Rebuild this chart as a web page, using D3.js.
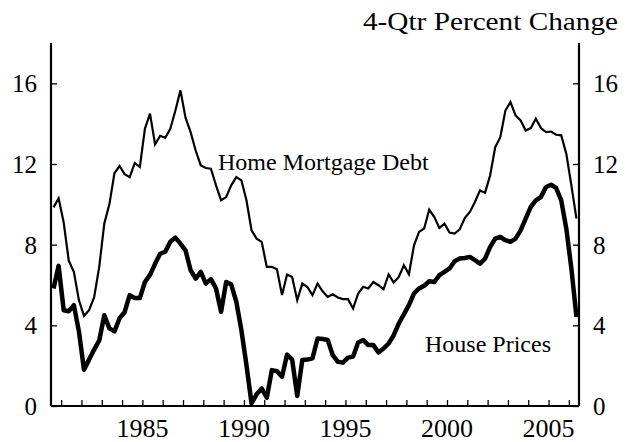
<!DOCTYPE html>
<html>
<head>
<meta charset="utf-8">
<script src="https://cdn.jsdelivr.net/npm/d3@7"></script>
<style>
  body { margin: 0; background: #fff; }
  text { font-family: "Liberation Serif", "Times New Roman", serif; fill: #000; }
</style>
</head>
<body>
<script>
const width = 626;
const height = 442;

// quarterly, starting 1980Q3
const startYear = 1980;
const startQuarter = 3;

const mortgageDebt = [
  9.85, 10.3,
  9.1, 7.2, 6.65, 5.25,
  4.47, 4.75, 5.4, 6.9,
  9.05, 10.0, 11.55, 11.9,
  11.5, 11.35, 12.05, 11.85,
  13.75, 14.5, 12.97, 13.4,
  13.3, 13.75, 14.65, 15.65,
  14.3, 13.58, 12.67, 11.93,
  11.8, 11.77, 10.94, 10.2,
  10.36, 10.94, 11.35, 11.19,
  10.2, 8.71, 8.3, 8.14,
  6.9, 6.9, 6.78, 5.5,
  6.52, 6.4, 5.25, 6.07,
  5.9, 5.5, 6.07, 5.69,
  5.41, 5.54, 5.38, 5.3,
  5.3, 4.83, 5.58, 5.91,
  5.83, 6.15, 5.99, 5.79,
  6.52, 6.12, 6.4, 6.98,
  6.53, 7.97, 8.63, 8.8,
  9.74, 9.37, 8.83, 9.04,
  8.6, 8.55, 8.76, 9.32,
  9.62, 10.12, 10.69, 10.58,
  11.44, 12.84, 13.33, 14.65,
  15.07, 14.41, 14.16, 13.66,
  13.78, 14.24, 13.78, 13.58,
  13.61, 13.45, 13.42, 12.51,
  10.94, 9.29
];

const housePrices = [
  5.83, 6.95,
  4.75, 4.7, 5.0, 3.7,
  1.8, 2.3, 2.8, 3.25,
  4.5, 3.85, 3.7, 4.35,
  4.65, 5.5, 5.35, 5.35,
  6.15, 6.5, 7.05, 7.55,
  7.65, 8.15, 8.35, 8.05,
  7.72, 6.73, 6.32, 6.65,
  6.07, 6.29, 5.83, 4.67,
  6.15, 6.02, 5.17, 3.76,
  2.03, 0.13, 0.58, 0.87,
  0.41, 1.78, 1.73, 1.45,
  2.55, 2.3, 0.5, 2.28,
  2.3, 2.36, 3.35, 3.32,
  3.27, 2.52, 2.19, 2.15,
  2.4, 2.45, 3.15, 3.27,
  3.02, 3.02, 2.66, 2.85,
  3.1, 3.51, 4.09, 4.54,
  5.0, 5.58, 5.83, 5.96,
  6.19, 6.15, 6.49, 6.65,
  6.82, 7.18, 7.31, 7.34,
  7.39, 7.23, 7.06, 7.31,
  7.89, 8.3, 8.38, 8.22,
  8.14, 8.3, 8.71, 9.29,
  9.87, 10.2, 10.36, 10.86,
  10.97, 10.81, 10.2, 8.8,
  6.82, 4.42
];

const yTicks = [0, 4, 8, 12, 16];
const yearLabels = [1985, 1990, 1995, 2000, 2005];

const margin = {top: 43, right: 47, bottom: 36, left: 51};

const svg = d3.select('body')
  .append('svg')
  .attr('width', width)
  .attr('height', height);

// mid-quarter date
const dateOf = i => startYear + (startQuarter - 1 + i + 0.5) / 4;

const x = d3.scaleLinear()
  .domain([1980.5, 2006.5])
  .range([margin.left, width - margin.right]);

const y = d3.scaleLinear()
  .domain([0, 18])
  .range([height - margin.bottom, margin.top]);

const line = d3.line()
  .x((d, i) => x(dateOf(i)))
  .y(d => y(d));

// axes
const axisLeft = svg.append('g')
  .attr('transform', `translate(${x.range()[0]},0)`)
  .call(d3.axisRight(y).tickValues(yTicks).tickSize(6).tickFormat(''));

const axisRight = svg.append('g')
  .attr('transform', `translate(${x.range()[1]},0)`)
  .call(d3.axisLeft(y).tickValues(yTicks).tickSize(6).tickFormat(''));

const axisBottom = svg.append('g')
  .attr('transform', `translate(0,${y(0)})`)
  .call(d3.axisTop(x).tickValues(d3.range(1981, 2007)).tickSize(6).tickFormat(''));

[axisLeft, axisRight, axisBottom].forEach(g => {
  g.select('.domain').attr('stroke', '#000').attr('stroke-width', 2.2);
  g.selectAll('.tick line').attr('stroke', '#000').attr('stroke-width', 1.3);
});
axisBottom.select('.domain').attr('d', `M${x.range()[0]},0H${x.range()[1]}`);
axisLeft.select('.domain').attr('d', `M0,${y.range()[0]}V${y.range()[1]}`);
axisRight.select('.domain').attr('d', `M0,${y.range()[0]}V${y.range()[1]}`);

// tick labels
svg.append('g')
  .selectAll('text')
  .data(yTicks)
  .join('text')
    .attr('x', x.range()[0] - 14)
    .attr('y', d => y(d))
    .attr('dy', '0.36em')
    .attr('text-anchor', 'end')
    .style('font-size', '25px')
    .text(d => d);

svg.append('g')
  .selectAll('text')
  .data(yTicks)
  .join('text')
    .attr('x', x.range()[1] + 14)
    .attr('y', d => y(d))
    .attr('dy', '0.36em')
    .attr('text-anchor', 'start')
    .style('font-size', '25px')
    .text(d => d);

svg.append('g')
  .selectAll('text')
  .data(yearLabels)
  .join('text')
    .attr('x', d => x(d))
    .attr('y', y(0) + 31)
    .attr('text-anchor', 'middle')
    .style('font-size', '26px')
    .text(d => d);

// series
svg.append('path')
  .datum(mortgageDebt)
  .attr('fill', 'none')
  .attr('stroke', '#000')
  .attr('stroke-width', 2.2)
  .attr('stroke-linejoin', 'miter')
  .attr('d', line);

svg.append('path')
  .datum(housePrices)
  .attr('fill', 'none')
  .attr('stroke', '#000')
  .attr('stroke-width', 4.5)
  .attr('stroke-linejoin', 'round')
  .attr('d', line);

// labels
svg.append('text')
  .attr('x', 618)
  .attr('y', 30)
  .attr('text-anchor', 'end')
  .attr('textLength', 255)
  .attr('lengthAdjust', 'spacingAndGlyphs')
  .style('font-size', '25.5px')
  .text('4-Qtr Percent Change');

svg.append('text')
  .attr('x', 218)
  .attr('y', 170)
  .style('font-size', '24px')
  .text('Home Mortgage Debt');

svg.append('text')
  .attr('x', 425)
  .attr('y', 352)
  .style('font-size', '24px')
  .text('House Prices');
</script>
</body>
</html>
